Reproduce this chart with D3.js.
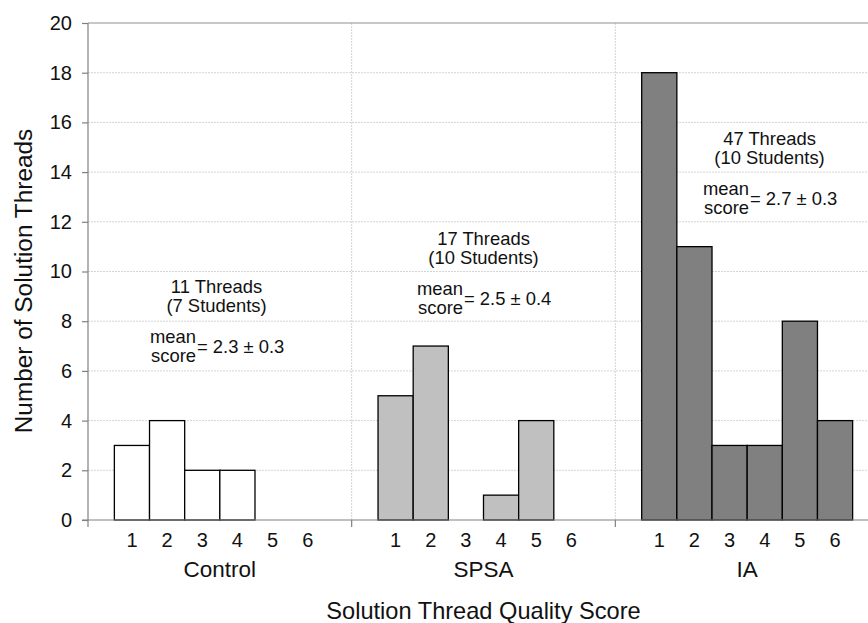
<!DOCTYPE html>
<html>
<head>
<meta charset="utf-8">
<script src="https://cdn.jsdelivr.net/npm/d3@7"></script>
<style>
  body { margin: 0; background: #fff; }
  svg { display: block; font-family: "Liberation Sans", Arial, sans-serif; }
</style>
</head>
<body>
<svg id="chart"></svg>
<script>
// data
const groups = ["Control", "SPSA", "IA"];
const scores = [1, 2, 3, 4, 5, 6];
const controlCounts = [3, 4, 2, 2, 0, 0];
const spsaCounts = [5, 7, 0, 1, 4, 0];
const iaCounts = [18, 11, 3, 3, 8, 4];
const threadLabels = ["11 Threads", "17 Threads", "47 Threads"];
const studentLabels = ["(7 Students)", "(10 Students)", "(10 Students)"];
const meanLabels = ["= 2.3 ± 0.3", "= 2.5 ± 0.4", "= 2.7 ± 0.3"];
const yTicks = [0, 2, 4, 6, 8, 10, 12, 14, 16, 18, 20];

// layout / styles
const groupColors = ["#ffffff", "#c0c0c0", "#808080"];
const annotX = [216.5, 483.5, 769.5];   // centre of the "N Threads" line
const annotLevel = [9.13, 11.07, 15.09]; // y value of its baseline

const width = 868, height = 623;
const marginLeft = 88, marginTop = 23, marginBottom = 103;
const plotRight = 879; // plot runs past the picture edge

const counts = [controlCounts, spsaCounts, iaCounts];
const data = groups.flatMap((g, gi) => scores.map((s, si) => ({group: g, score: s, value: counts[gi][si], color: groupColors[gi]})));

const svg = d3.select("#chart")
  .attr("width", width)
  .attr("height", height)
  .attr("viewBox", [0, 0, width, height]);

const x0 = d3.scaleBand(groups, [marginLeft, plotRight]).padding(0);
const x1 = d3.scaleBand(scores, [0, x0.bandwidth()]).paddingInner(0).paddingOuter(0.75);
const y = d3.scaleLinear([0, 20], [height - marginBottom, marginTop]);

// horizontal grid
svg.append("g")
  .selectAll("line")
  .data(yTicks.filter(d => d > 0 && d < 20))
  .join("line")
    .attr("x1", marginLeft).attr("x2", width)
    .attr("y1", d => y(d)).attr("y2", d => y(d))
    .attr("stroke", "#d4d4d4")
    .attr("stroke-dasharray", "2,1");

// vertical group separators
svg.append("g")
  .selectAll("line")
  .data(groups.slice(1))
  .join("line")
    .attr("x1", d => x0(d)).attr("x2", d => x0(d))
    .attr("y1", marginTop).attr("y2", y(0))
    .attr("stroke", "#d4d4d4")
    .attr("stroke-dasharray", "2,1");

// top border
svg.append("line")
  .attr("x1", marginLeft).attr("x2", width)
  .attr("y1", marginTop).attr("y2", marginTop)
  .attr("stroke", "#909090").attr("stroke-width", 1.2);

// bars
svg.append("g")
  .attr("stroke", "#000")
  .attr("stroke-width", 1.3)
  .selectAll("rect")
  .data(data.filter(d => d.value > 0))
  .join("rect")
    .attr("x", d => x0(d.group) + x1(d.score))
    .attr("y", d => y(d.value))
    .attr("width", x1.bandwidth())
    .attr("height", d => y(0) - y(d.value))
    .attr("fill", d => d.color);

// y axis
const yAxis = svg.append("g")
  .attr("transform", `translate(${marginLeft},0)`)
  .call(d3.axisLeft(y).tickValues(yTicks).tickSize(6).tickPadding(10))
  .call(g => g.select(".domain").attr("d", `M0,${y(0)}V${marginTop}`));
yAxis.selectAll("line, path").attr("stroke", "#808080").attr("stroke-width", 1.2);
yAxis.selectAll("text").attr("font-size", 20).attr("fill", "#111").attr("font-family", "Liberation Sans, Arial, sans-serif");

// x axis line with group ticks
const xAxis = svg.append("g")
  .attr("transform", `translate(0,${y(0)})`);
xAxis.append("line")
  .attr("x1", marginLeft - 6).attr("x2", width)
  .attr("stroke", "#808080").attr("stroke-width", 1.2);
xAxis.selectAll(".gtick")
  .data(groups)
  .join("line")
    .attr("class", "gtick")
    .attr("x1", d => x0(d)).attr("x2", d => x0(d))
    .attr("y1", 0).attr("y2", 7)
    .attr("stroke", "#808080").attr("stroke-width", 1.2);

// score labels
svg.append("g")
  .attr("font-size", 20)
  .attr("fill", "#111")
  .attr("text-anchor", "middle")
  .selectAll("text")
  .data(data)
  .join("text")
    .attr("x", d => x0(d.group) + x1(d.score) + x1.bandwidth() / 2)
    .attr("y", y(0) + 27)
    .text(d => d.score);

// group labels
svg.append("g")
  .attr("font-size", 22.5)
  .attr("fill", "#111")
  .attr("text-anchor", "middle")
  .selectAll("text")
  .data(groups)
  .join("text")
    .attr("x", d => x0(d) + x0.bandwidth() / 2)
    .attr("y", y(0) + 57)
    .text(d => d);

// axis titles
svg.append("text")
  .attr("x", (marginLeft + plotRight) / 2).attr("y", 619)
  .attr("text-anchor", "middle")
  .attr("font-size", 23.6).attr("fill", "#111")
  .text("Solution Thread Quality Score");

svg.append("text")
  .attr("transform", `translate(32,281) rotate(-90)`)
  .attr("text-anchor", "middle")
  .attr("font-size", 24.4).attr("fill", "#111")
  .text("Number of Solution Threads");

// annotations
const ann = svg.append("g")
  .attr("fill", "#111")
  .attr("font-size", 18.4)
  .selectAll("g")
  .data(groups)
  .join("g")
    .attr("transform", (d, i) => `translate(${annotX[i]},${y(annotLevel[i])})`);
ann.append("text")
  .attr("text-anchor", "middle")
  .text((d, i) => threadLabels[i]);
ann.append("text")
  .attr("text-anchor", "middle").attr("y", 19)
  .text((d, i) => studentLabels[i]);
ann.append("text")
  .attr("text-anchor", "end").attr("x", -20.5).attr("y", 50)
  .text("mean");
ann.append("text")
  .attr("text-anchor", "end").attr("x", -20.5).attr("y", 69)
  .text("score");
ann.append("text")
  .attr("text-anchor", "start").attr("x", -19.5).attr("y", 60)
  .text((d, i) => meanLabels[i]);
</script>
</body>
</html>
